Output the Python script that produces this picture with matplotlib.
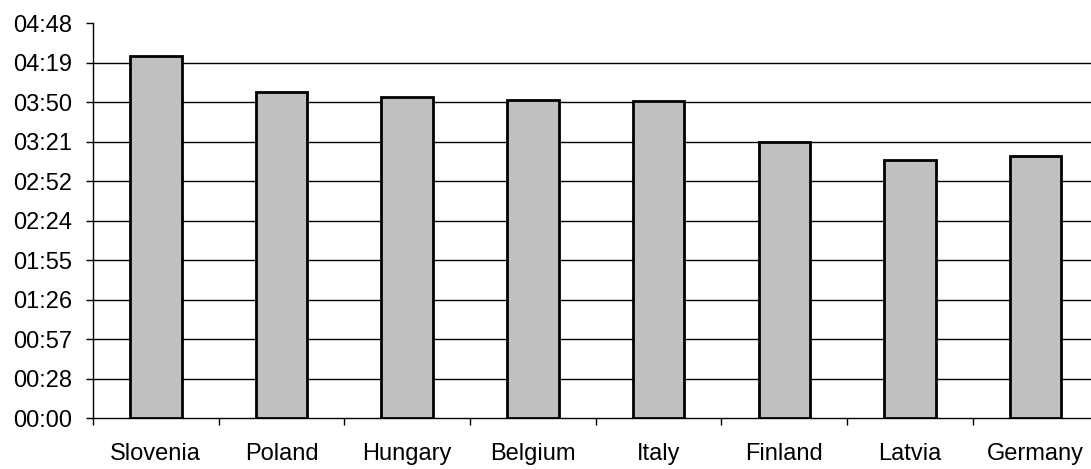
import numpy as np
import matplotlib
matplotlib.use("Agg")
import matplotlib.pyplot as plt
from matplotlib.ticker import FixedLocator, FuncFormatter

countries = ["Slovenia", "Poland", "Hungary", "Belgium",
             "Italy", "Finland", "Latvia", "Germany"]
# average time per day, in minutes
minutes = [264.2, 237.9, 234.0, 231.9, 230.9, 201.0, 187.9, 191.0]

# axis runs 0..4:48 in steps of 0.02 day (28.8 min)
y_step = 28.8
y_max = 288.0

plt.rcParams["font.family"] = ["Liberation Sans", "DejaVu Sans"]

fig = plt.figure(figsize=(10.91, 4.69), dpi=100)
ax = fig.add_axes([0.0852, 0.1087, 0.9217, 0.8422])

x = np.arange(len(countries))
ax.bar(x, minutes, width=0.41, color="#c0c0c0", edgecolor="black",
       linewidth=2, zorder=3)

ax.set_xlim(-0.5, len(countries) - 0.5)
ax.set_ylim(0, y_max)

yticks = np.arange(0, y_max + 0.01, y_step)
ax.yaxis.set_major_locator(FixedLocator(yticks))
ax.yaxis.set_major_formatter(
    FuncFormatter(lambda v, _: f"{int(v + 1e-6) // 60:02d}:{int(v + 1e-6) % 60:02d}")
)
for v in yticks[1:-1]:
    ax.axhline(v, color="black", linewidth=1, zorder=1)

# category labels sit between the tick marks at the boundaries
ax.set_xticks(np.arange(len(countries) + 1) - 0.5)
ax.set_xticklabels([])
ax.set_xticks(x, minor=True)
ax.set_xticklabels(countries, minor=True)
ax.tick_params(axis="x", which="minor", length=0, pad=18, labelsize=17)
ax.tick_params(axis="x", which="major", direction="out", length=5,
               width=1, color="black")
ax.tick_params(axis="y", direction="out", length=5, width=1,
               pad=10, labelsize=17, color="black")

for side in ("top", "right"):
    ax.spines[side].set_visible(False)
for side in ("left", "bottom"):
    ax.spines[side].set_linewidth(1)
    ax.spines[side].set_color("black")

fig.savefig("out.png", dpi=100)
